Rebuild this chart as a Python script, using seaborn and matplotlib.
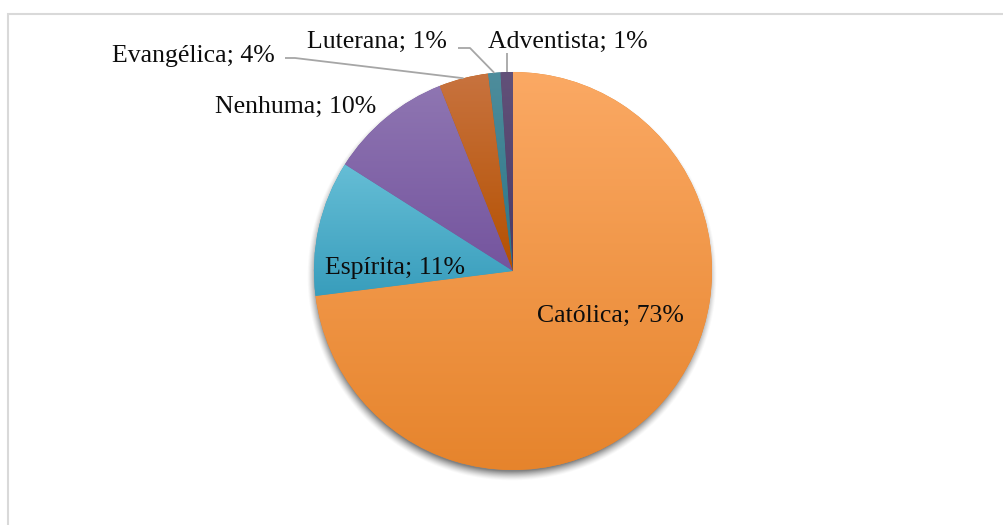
import numpy as np
import matplotlib
matplotlib.use("Agg")
import matplotlib.pyplot as plt
import seaborn as sns
from matplotlib.colors import LinearSegmentedColormap
from matplotlib.patches import Rectangle

# Religion distribution
religions = ["Católica", "Espírita", "Nenhuma", "Evangélica", "Luterana", "Adventista"]
shares = [73, 11, 10, 4, 1, 1]

# Gradient fills: lighter at the top of each slice, darker at the bottom
top_colors = ["#FBA964", "#66BED6", "#8F76B2", "#C8733F", "#4E8D9C", "#625179"]
bottom_colors = ["#E6842C", "#389DBC", "#74549E", "#B45000", "#2C7587", "#4A3A66"]

# Label placement (pixel layout, text left edge and baseline)
label_pos = [(537, 322), (325, 274), (215, 113), (112, 62), (307, 48), (488, 48)]
# Elbow leader lines for the small slices: (start, elbow) in pixels
leaders = {3: [(285, 58), (295, 58)], 4: [(458, 48), (470, 48)], 5: [None, None]}

W, H = 1004, 525
sns.set_theme(style="white")
plt.rcParams["font.family"] = ["Liberation Serif", "DejaVu Serif"]

fig = plt.figure(figsize=(W / 100, H / 100), dpi=100)
fig.patch.set_facecolor("white")
ax = fig.add_axes([0, 0, 1, 1])


def py(y_img):
    return H - y_img


cx, cy, R = 513, py(271), 199

# Soft drop shadow beneath the pie
yy, xx = np.mgrid[0:H, 0:W] + 0.5
d = np.hypot(xx - (cx - 1), yy - (cy - 5))
alpha = 0.7 * np.clip((R + 6 - d) / 10.0, 0, 1) ** 1.4
shadow = np.zeros((H, W, 4))
shadow[..., :3] = 0.3
shadow[..., 3] = alpha
ax.imshow(shadow, extent=(0, W, 0, H), origin="lower", zorder=1, aspect="auto",
          interpolation="bilinear")

wedges, _ = ax.pie(shares, startangle=90, counterclock=False, center=(cx, cy),
                   radius=R, wedgeprops=dict(linewidth=0, edgecolor="none"))

grad = np.linspace(0, 1, 256).reshape(-1, 1)
for i, w in enumerate(wedges):
    w.set_zorder(2)
    t = np.radians(np.linspace(w.theta1, w.theta2, 200))
    ys = np.concatenate([cy + R * np.sin(t), [cy]])
    ymin, ymax = ys.min(), ys.max()
    cmap = LinearSegmentedColormap.from_list(f"g{i}", [bottom_colors[i], top_colors[i]])
    w.set_facecolor(bottom_colors[i])
    im = ax.imshow(grad, extent=(cx - R - 2, cx + R + 2, ymin - 1, ymax + 1), origin="lower",
                   cmap=cmap, aspect="auto", zorder=3, interpolation="bilinear")
    im.set_clip_path(w)

# Labels
for i, (name, s) in enumerate(zip(religions, shares)):
    x, yb = label_pos[i]
    ax.text(x, py(yb), f"{name}; {s}%", fontsize=18.5, color="#0D0D0D",
            ha="left", va="baseline", zorder=6)

# Leader lines to the small slices
for i, pts in leaders.items():
    w = wedges[i]
    mid = np.radians((w.theta1 + w.theta2) / 2)
    ex, ey = cx + R * np.cos(mid), cy + R * np.sin(mid)
    if pts[0] is None:
        xs, ys = [ex, ex], [py(53), ey]
    else:
        (x0, y0), (x1, y1) = pts
        xs, ys = [x0, x1, ex], [py(y0), py(y1), ey]
    ax.plot(xs, ys, color="#A6A6A6", lw=1.3, zorder=5, solid_capstyle="butt")

# Chart area border
ax.add_patch(Rectangle((8.5, -20), W + 20, py(13.5) + 20, fill=False,
                       edgecolor="#D9D9D9", lw=1.5, zorder=7))

ax.set_xlim(0, W)
ax.set_ylim(0, H)
ax.set_aspect("auto")
ax.axis("off")

fig.savefig("out.png", dpi=100, facecolor="white")
